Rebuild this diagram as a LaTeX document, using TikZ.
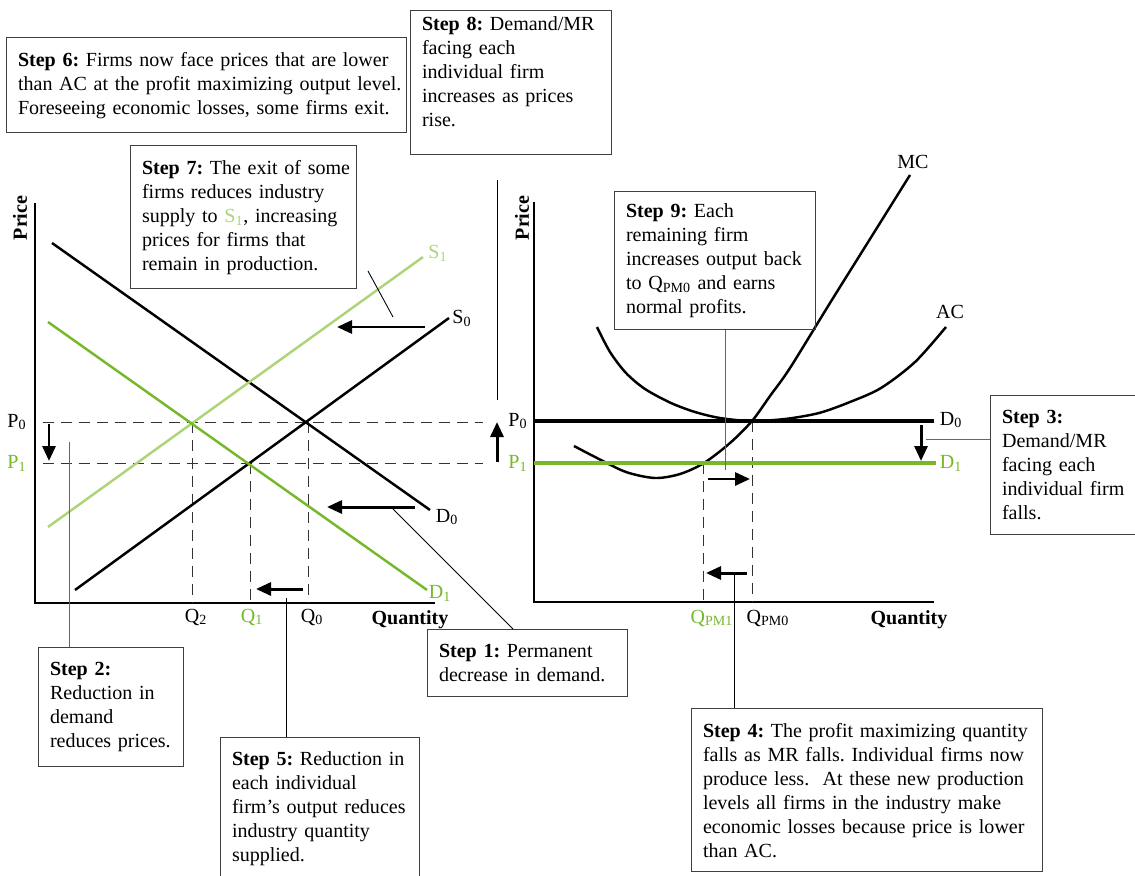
\documentclass[tikz,border=0pt]{standalone}
\usepackage{fontspec}
\setmainfont{Liberation Serif}
\usetikzlibrary{arrows.meta,calc}
\definecolor{dgreen}{RGB}{118,184,42}
\definecolor{lgreen}{RGB}{174,212,120}
\tikzset{
  stepbox/.style={draw=black!75,line width=0.6pt,anchor=north west,align=left,
    inner xsep=0.23cm,inner ysep=0.29cm,
    execute at begin node={\rightskip=0pt plus 1fil minus 2cm\hyphenpenalty=10000}},
  curve/.style={line width=1.4pt},
  guide/.style={black!80,line width=0.5pt,dash pattern=on 0.22cm off 0.14cm},
  movearrow/.style={line width=1.7pt,-{Triangle[length=0.3cm,width=0.26cm]}},
  leader/.style={line width=0.5pt},
}

\begin{document}
\begin{tikzpicture}[x=0.02cm,y=-0.02cm,font=\fontsize{11.4}{13.66}\selectfont\frenchspacing]
\useasboundingbox (0,0) rectangle (1135,875);

% industry
\draw[line width=0.7pt] (35,203)--(35,603)--(435,603);
\node[rotate=90] (pricea) at (20,218) {\textbf{Price}};
\node (quanta) at (410,620) {\textbf{Quantity}};
\draw[guide] (43,422)--(483,422);
\draw[guide] (43,463)--(483,463);
\foreach \x/\y in {192/422,250/463,308/422}
  \draw[guide] (\x,\y)--(\x,603);
\draw[curve] (52,243)--(430,510);
\draw[curve] (75,590)--(449,318);
\draw[curve,lgreen] (48,527)--(423,257);
\draw[curve,dgreen] (48,322)--(427,590);
\node (d0a) at (447,517) {D\textsubscript{0}};
\node (s0a) at (462,318) {S\textsubscript{0}};
\node[lgreen] (s1a) at (438,253) {S\textsubscript{1}};
\node[dgreen] (d1a) at (440,593) {D\textsubscript{1}};
\node (p0a) at (17,422) {P\textsubscript{0}};
\node[dgreen] (p1a) at (17,463) {P\textsubscript{1}};
\node (q2) at (196,617) {Q\textsubscript{2}};
\node[dgreen] (q1) at (252,617) {Q\textsubscript{1}};
\node (q0) at (312,617) {Q\textsubscript{0}};
\draw[movearrow] (49,424)--(49,461);
\draw[movearrow] (425,327)--(337,327);
\draw[movearrow] (415,507)--(327,507);
\draw[movearrow] (303,589)--(256,589);
\draw[movearrow] (497,462)--(497,422);

% firm
\draw[line width=0.7pt] (534,202)--(534,602)--(934,602);
\node[rotate=90] (priceb) at (522,218) {\textbf{Price}};
\node (quantb) at (909,620) {\textbf{Quantity}};
\draw[guide] (703,463)--(703,602);
\draw[guide] (752,421)--(752,602);
\draw[curve] plot[smooth] coordinates {(597,327) (610,352) (626,373) (645,389) (671,403) (695,412) (720,418) (751,421) (785,419) (819,413) (850,402) (881,388) (915,362) (946,327)};
\draw[curve] plot[smooth] coordinates {(574,446) (597,458) (626,472) (655,478) (680,474) (704,463) (730,443) (752,421) (770,396) (790,368) (830,303) (870,239) (910,175)};
\draw[line width=1.8pt] (534,421)--(934,421);
\draw[line width=1.8pt,dgreen] (534,463)--(936,463);
\node (mc) at (913,162) {MC};
\node (ac) at (950,312) {AC};
\node (d0b) at (951,420) {D\textsubscript{0}};
\node[dgreen] (d1b) at (951,463) {D\textsubscript{1}};
\node (p0b) at (518,421) {P\textsubscript{0}};
\node[dgreen] (p1b) at (518,463) {P\textsubscript{1}};
\node[dgreen] (qpm1) at (712,618) {Q\textsubscript{PM1}};
\node (qpm0) at (768,618) {Q\textsubscript{PM0}};
\draw[movearrow] (921,425)--(921,461);
\draw[movearrow] (708,479)--(750,479);
\draw[movearrow] (747,573)--(706,573);

% steps
\node[stepbox,text width=7.54cm] (s6) at (6,37) {\textbf{Step 6:} Firms now face prices that are lower\\than AC at the profit maximizing output level.\\Foreseeing economic losses, some firms exit.};
\node[stepbox,text width=3.56cm,inner ysep=0.12cm,execute at end node={\par\kern0.44cm}] (s8) at (410,10) {\textbf{Step 8:} Demand/MR\\facing each\\individual firm\\increases as prices\\rise.};
\node[stepbox,text width=4.06cm] (s7) at (130,145) {\textbf{Step 7:} The exit of some\\firms reduces industry\\supply to {\color{lgreen}S\textsubscript{1}}, increasing\\prices for firms that\\remain in production.};
\node[stepbox,text width=3.56cm,inner ysep=0.24cm] (s9) at (614,191) {\textbf{Step 9:} Each\\remaining firm\\increases output back\\to Q\textsubscript{PM0} and earns\\normal profits.};
\node[stepbox,text width=2.7cm] (s3) at (990,395) {\textbf{Step 3:}\\Demand/MR\\facing each\\individual firm\\falls.};
\node[stepbox,text width=2.44cm] (s2) at (38,647) {\textbf{Step 2:}\\Reduction in\\demand\\reduces prices.};
\node[stepbox,text width=3.52cm] (s5) at (220,737) {\textbf{Step 5:} Reduction in\\each individual\\firm’s output reduces\\industry quantity\\supplied.};
\node[stepbox,text width=3.54cm] (s1) at (427,629) {\textbf{Step 1:} Permanent\\decrease in demand.};
\node[stepbox,text width=6.56cm] (s4) at (691,708) {\textbf{Step 4:} The profit maximizing quantity\\falls as MR falls. Individual firms now\\produce less.\ \ At these new production\\levels all firms in the industry make\\economic losses because price is lower\\than AC.};

% leaders
\coordinate (l1) at (393,509);
\coordinate (l2) at (69,442);
\coordinate (l3) at (926,439);
\coordinate (l4) at (734,573);
\coordinate (l5) at (286,598);
\coordinate (l7a) at (368,271);
\coordinate (l7b) at (393,317);
\coordinate (l8a) at (497,180);
\coordinate (l8b) at (497,400);
\coordinate (l9) at (725,470);
\draw[leader] (l1)--($(s1.north west)+(86,0)$);
\draw[leader,black!60] (l2)--(s2.north -| l2);
\draw[leader,black!60] (l3)--(s3.west |- l3);
\draw[leader] (l4)--(s4.north -| l4);
\draw[leader] (l5)--(s5.north -| l5);
\draw[leader] (l7a)--(l7b);
\draw[leader] (l8a)--(l8b);
\draw[leader,black!60] (s9.south -| l9)--(l9);
\end{tikzpicture}
\end{document}
